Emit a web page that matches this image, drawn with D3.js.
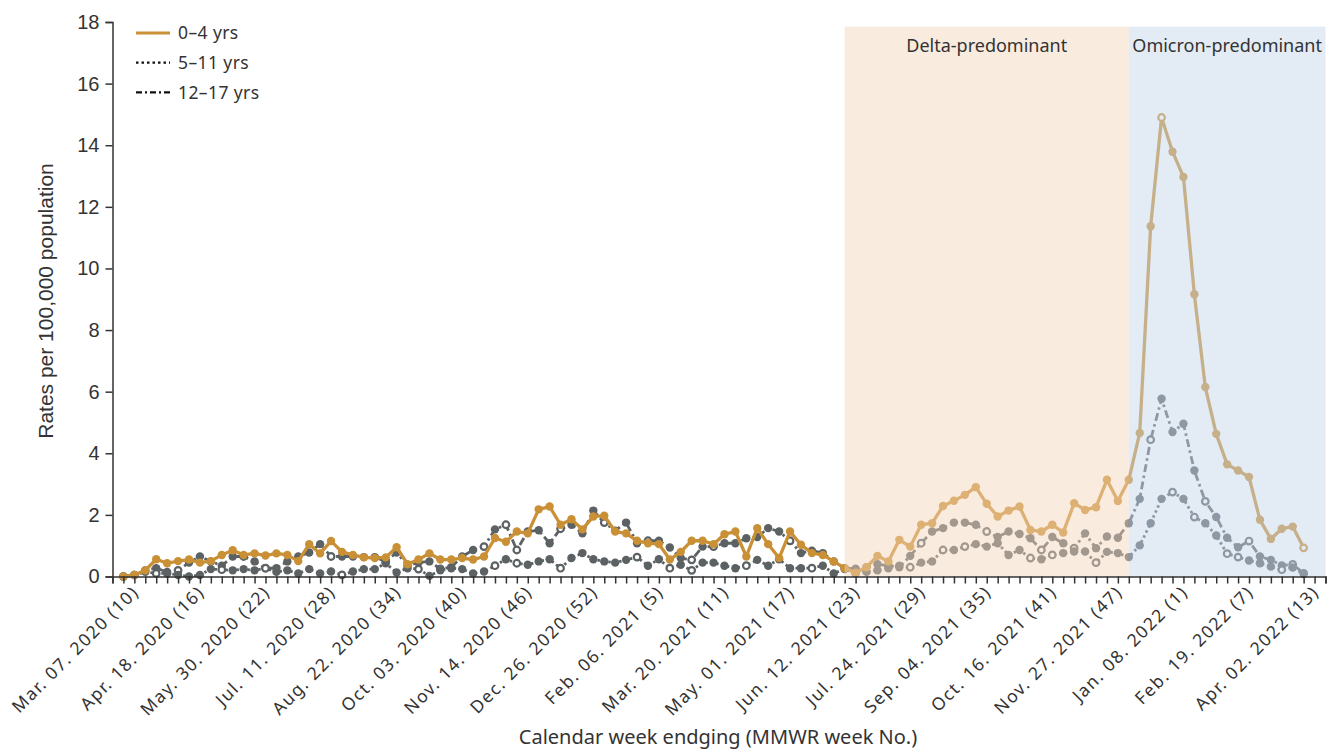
<!DOCTYPE html>
<html>
<head>
<meta charset="utf-8">
<script src="https://cdn.jsdelivr.net/npm/d3@7"></script>
<style>
  body { margin: 0; background: #fff; }
  svg text { font-family: "Noto Sans", sans-serif; fill: #333; }
</style>
</head>
<body>
<div id="chart"></div>
<script>
// weekly rates, Mar. 07. 2020 (week 10) -> Apr. 02. 2022 (week 13)
const rate0to4 = [
  0, 0.05, 0.2, 0.56, 0.43, 0.5, 0.55, 0.45, 0.5, 0.7,
  0.85, 0.7, 0.75, 0.68, 0.75, 0.7, 0.5, 1.05, 0.75, 1.15,
  0.8, 0.7, 0.62, 0.6, 0.62, 0.95, 0.4, 0.55, 0.75, 0.55,
  0.55, 0.6, 0.55, 0.65, 1.25, 1.13, 1.46, 1.4, 2.18, 2.27,
  1.68, 1.86, 1.53, 1.95, 1.97, 1.46, 1.4, 1.16, 1.08, 1.05,
  0.55, 0.8, 1.16, 1.16, 1.05, 1.37, 1.46, 0.65, 1.57, 1.05,
  0.6, 1.46, 1.03, 0.76, 0.7, 0.49, 0.27, 0.12, 0.3, 0.67,
  0.49, 1.19, 0.97, 1.68, 1.73, 2.29, 2.46, 2.65, 2.9, 2.36,
  1.95, 2.14, 2.27, 1.51, 1.46, 1.68, 1.43, 2.38, 2.16, 2.25,
  3.14, 2.45, 3.14, 4.66, 11.37, 14.9, 13.79, 12.97, 9.16, 6.15,
  4.63, 3.64, 3.44, 3.23, 1.84, 1.22, 1.55, 1.62, 0.93
];
const rate5to11 = [
  0, 0.05, 0.15, 0.1, 0.1, 0.05, 0, 0.05, 0.24, 0.22,
  0.2, 0.24, 0.2, 0.27, 0.15, 0.2, 0.1, 0.24, 0.1, 0.16,
  0.05, 0.16, 0.24, 0.24, 0.43, 0.13, 0.27, 0.24, 0.02, 0.2,
  0.27, 0.24, 0.1, 0.16, 0.35, 0.56, 0.43, 0.38, 0.49, 0.56,
  0.27, 0.6, 0.76, 0.56, 0.49, 0.45, 0.54, 0.63, 0.35, 0.56,
  0.27, 0.38, 0.2, 0.45, 0.45, 0.35, 0.27, 0.35, 0.54, 0.35,
  0.56, 0.27, 0.27, 0.27, 0.35, 0.1, 0.24, 0.1, 0.15, 0.2,
  0.27, 0.35, 0.3, 0.45, 0.49, 0.86, 0.86, 0.97, 1.05, 0.97,
  1.08, 0.7, 0.86, 0.6, 0.56, 0.7, 0.76, 0.81, 0.81, 0.45,
  0.8, 0.76, 0.63, 1.01, 1.73, 2.52, 2.74, 2.52, 1.93, 1.73,
  1.33, 0.74, 0.63, 0.52, 0.43, 0.32, 0.22, 0.29, 0.08
];
const rate12to17 = [
  0, 0.05, 0.2, 0.27, 0.15, 0.2, 0.45, 0.65, 0.49, 0.35,
  0.65, 0.65, 0.49, 0.27, 0.27, 0.49, 0.65, 0.78, 1.05, 0.65,
  0.65, 0.65, 0.63, 0.63, 0.49, 0.78, 0.35, 0.45, 0.49, 0.25,
  0.3, 0.65, 0.86, 0.97, 1.53, 1.68, 0.86, 1.46, 1.5, 1.08,
  1.55, 1.68, 1.4, 2.14, 1.75, 1.49, 1.75, 1.08, 1.16, 1.16,
  0.94, 0.6, 0.54, 0.97, 0.97, 1.08, 1.08, 1.24, 1.28, 1.57,
  1.46, 1.16, 0.76, 0.84, 0.76, 0.49, 0.27, 0.25, 0.3, 0.4,
  0.35, 0.3, 0.67, 1.08, 1.46, 1.57, 1.75, 1.75, 1.68, 1.46,
  1.28, 1.46, 1.38, 1.24, 0.86, 1.28, 1.08, 0.92, 1.4, 0.92,
  1.3, 1.26, 1.73, 2.52, 4.44, 5.77, 4.69, 4.96, 3.44, 2.44,
  1.93, 1.26, 0.95, 1.15, 0.65, 0.54, 0.36, 0.39, 0.11
];
// open (hollow) markers, by week index
const hollow0to4 = [95, 108];
const hollow5to11 = [3, 9, 13, 20, 27, 34, 36, 40, 47, 50, 52, 57, 63, 72, 75, 77, 83, 85, 89, 96, 98, 101, 102, 106];
const hollow12to17 = [5, 11, 19, 24, 29, 33, 35, 36, 40, 44, 48, 52, 54, 61, 70, 73, 79, 84, 87, 94, 99, 103, 107];

const tickLabels = [
  "Mar. 07. 2020 (10)", "Apr. 18. 2020 (16)", "May. 30. 2020 (22)", "Jul. 11. 2020 (28)",
  "Aug. 22. 2020 (34)", "Oct. 03. 2020 (40)", "Nov. 14. 2020 (46)", "Dec. 26. 2020 (52)",
  "Feb. 06. 2021 (5)", "Mar. 20. 2021 (11)", "May. 01. 2021 (17)", "Jun. 12. 2021 (23)",
  "Jul. 24. 2021 (29)", "Sep. 04. 2021 (35)", "Oct. 16. 2021 (41)", "Nov. 27. 2021 (47)",
  "Jan. 08. 2022 (1)", "Feb. 19. 2022 (7)", "Apr. 02. 2022 (13)"
];
const yTicks = [0, 2, 4, 6, 8, 10, 12, 14, 16, 18];

const periodNames = ["Delta-predominant", "Omicron-predominant"];
const periodStart = [66, 92];
const periodEnd = [92, 110];
const periodColors = ["rgb(244,213,187)", "rgb(196,212,234)"];

const width = 1332;
const height = 750;

const x = d3.scaleLinear().domain([-1, 110]).range([112.5, 1325.5]);
const y = d3.scaleLinear().domain([0, 18]).range([576.5, 22]);

const svg = d3.select("#chart").append("svg")
  .attr("width", width)
  .attr("height", height);

const series = [
  {name: "12–17 yrs", values: rate12to17, hollow: hollow12to17, color: "#5c6264", dash: "8,3.5,2.5,3.5", width: 2.8},
  {name: "5–11 yrs", values: rate5to11, hollow: hollow5to11, color: "#5c6264", dash: "2.5,3", width: 2.8},
  {name: "0–4 yrs", values: rate0to4, hollow: hollow0to4, color: "#c99036", dash: null, width: 3.3}
];

const line = d3.line()
  .x((d, i) => x(i))
  .y(d => y(d));

series.forEach(s => {
  const g = svg.append("g");
  g.append("path")
    .datum(s.values)
    .attr("fill", "none")
    .attr("stroke", s.color)
    .attr("stroke-width", s.width)
    .attr("stroke-dasharray", s.dash)
    .attr("stroke-linejoin", "round")
    .attr("d", line);

  g.selectAll("circle")
    .data(s.values)
    .join("circle")
    .attr("cx", (d, i) => x(i))
    .attr("cy", d => y(d))
    .attr("r", (d, i) => s.hollow.includes(i) ? 3.3 : 4.2)
    .attr("fill", (d, i) => s.hollow.includes(i) ? "#fff" : s.color)
    .attr("stroke", s.color)
    .attr("stroke-width", (d, i) => s.hollow.includes(i) ? 2.2 : 0);
});

// shaded variant periods sit over the lines (lines show through faded)
const bands = svg.append("g");
periodNames.forEach((name, k) => {
  bands.append("rect")
    .attr("x", x(periodStart[k]))
    .attr("y", y(17.85))
    .attr("width", x(periodEnd[k]) - x(periodStart[k]))
    .attr("height", y(0) - y(17.85))
    .attr("fill", periodColors[k])
    .attr("fill-opacity", 0.47);
});
periodNames.forEach((name, k) => {
  bands.append("text")
    .attr("x", (x(periodStart[k]) + x(periodEnd[k])) / 2)
    .attr("y", 52)
    .attr("text-anchor", "middle")
    .style("font-size", "18px")
    .text(name);
});

// axes
const yAxis = d3.axisLeft(y).tickValues(yTicks).tickSize(7).tickPadding(6);
const gy = svg.append("g")
  .attr("transform", `translate(${x(-1)},0)`)
  .call(yAxis);
gy.selectAll("text")
  .style("font-family", "'Liberation Sans', Arial, sans-serif")
  .style("font-size", "20px")
  .attr("fill", "#222");

const xAxis = d3.axisBottom(x)
  .tickValues(d3.range(-1, 111))
  .tickSize(7)
  .tickFormat(i => (i >= 0 && i % 6 === 0) ? tickLabels[i / 6] : "");
const gx = svg.append("g")
  .attr("transform", `translate(0,${y(0)})`)
  .call(xAxis);
gx.selectAll("text")
  .style("font-size", "17.5px")
  .style("letter-spacing", "1.5px")
  .attr("fill", "#222")
  .attr("text-anchor", "end")
  .attr("dy", "0.35em")
  .attr("transform", "translate(6,4) rotate(-45)")
  .attr("y", 10)
  .attr("x", -2);

svg.selectAll(".domain, .tick line")
  .attr("stroke", "#333")
  .attr("stroke-width", 1.5);

// axis titles
svg.append("text")
  .attr("transform", "translate(53,301) rotate(-90)")
  .attr("text-anchor", "middle")
  .style("font-family", "'Liberation Sans', Arial, sans-serif")
  .style("font-size", "21px")
  .attr("fill", "#222")
  .text("Rates per 100,000 population");

svg.append("text")
  .attr("x", 718)
  .attr("y", 744)
  .attr("text-anchor", "middle")
  .style("font-size", "20px")
  .text("Calendar week endging (MMWR week No.)");

// legend
const legendOrder = [series[2], series[1], series[0]];
const legend = svg.append("g");
legendOrder.forEach((s, k) => {
  const ly = 33 + k * 29.7;
  legend.append("line")
    .attr("x1", 136).attr("x2", 170)
    .attr("y1", ly).attr("y2", ly)
    .attr("stroke", s.dash ? "#111" : s.color)
    .attr("stroke-width", s.dash ? 2.2 : 3)
    .attr("stroke-dasharray", s.dash ? (s.name === "5–11 yrs" ? "2.5,3" : "6,3,2,3") : null);
  legend.append("text")
    .attr("x", 178)
    .attr("y", ly)
    .attr("dy", "0.35em")
    .style("font-size", "17.5px")
    .style("letter-spacing", "0.4px")
    .text(s.name);
});
</script>
</body>
</html>
